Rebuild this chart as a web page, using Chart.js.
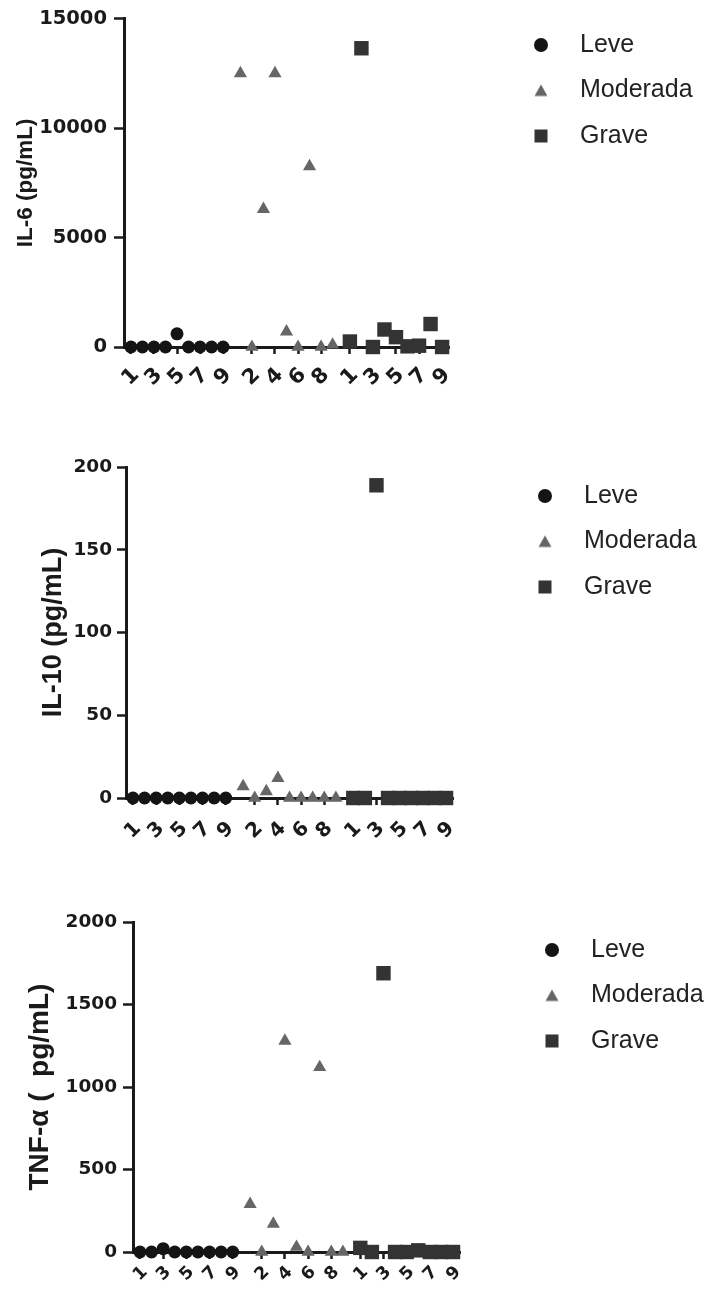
<!DOCTYPE html>
<html><head><meta charset="utf-8">
<script src="https://cdn.jsdelivr.net/npm/chart.js@4.4.1/dist/chart.umd.min.js"></script>
<style>
html,body{margin:0;padding:0;background:#fff;}
body{width:710px;height:1294px;position:relative;overflow:hidden;}
.panel{position:absolute;left:0;width:710px;}
</style></head><body>
<div class="panel" style="top:0px;height:400px"><canvas id="c1"></canvas></div>
<div class="panel" style="top:451px;height:400px"><canvas id="c2"></canvas></div>
<div class="panel" style="top:905px;height:389px"><canvas id="c3"></canvas></div>
<script>
// ---- data ----
const groups = ['Leve', 'Moderada', 'Grave'];
const patients = [1, 2, 3, 4, 5, 6, 7, 8, 9];
const tickLeve = [1, 3, 5, 7, 9];
const tickModerada = [2, 4, 6, 8];
const tickGrave = [1, 3, 5, 7, 9];

const il6Leve = [0, 0, 0, 0, 600, 0, 0, 0, 0];
const il6Moderada = [12500, 0, 6300, 12500, 700, 0, 8250, 0, 100];
const il6Grave = [250, 13650, 0, 800, 450, 30, 60, 1050, 0];
const il6Ticks = [0, 5000, 10000, 15000];

const il10Leve = [0, 0, 0, 0, 0, 0, 0, 0, 0];
const il10Moderada = [7, 0, 4, 12, 0, 0, 0, 0, 0];
const il10Grave = [0, 0, 189, 0, 0, 0, 0, 0, 0];
const il10Ticks = [0, 50, 100, 150, 200];

const tnfLeve = [0, 0, 20, 0, 0, 0, 0, 0, 0];
const tnfModerada = [290, 0, 170, 1280, 30, 0, 1120, 0, 0];
const tnfGrave = [25, 0, 1690, 0, 0, 10, 0, 0, 0];
const tnfTicks = [0, 500, 1000, 1500, 2000];

// ---- styling ----
const colors = ['#141414', '#666666', '#333333'];
const styles = ['circle', 'triangle', 'rect'];
const radii = [6.5, 7.6, 10.2];
const ink = '#1a1a1a';
const groupStride = patients.length + 0.5;
const groupTicks = [tickLeve, tickModerada, tickGrave];

function makeIcon(gi) {
  const c = document.createElement('canvas');
  c.width = 18; c.height = 18;
  const g = c.getContext('2d');
  g.fillStyle = colors[gi];
  if (gi === 0) { g.beginPath(); g.arc(9, 9, 7, 0, Math.PI * 2); g.fill(); }
  else if (gi === 1) { g.beginPath(); g.moveTo(9, 3); g.lineTo(15.5, 14.5); g.lineTo(2.5, 14.5); g.closePath(); g.fill(); }
  else { g.fillRect(2.5, 2.5, 13, 13); }
  return c;
}
const icons = groups.map((g, i) => makeIcon(i));

function makeChart(id, cfg) {
  const tickPos = [], tickText = [];
  groupTicks.forEach((arr, gi) => arr.forEach(n => { tickPos.push(gi * groupStride + (n - 1)); tickText.push(String(n)); }));
  const datasets = groups.map((g, gi) => ({
    label: g,
    data: patients.map((p, i) => ({ x: gi * groupStride + (p - 1), y: cfg.values[gi][i] })),
    pointStyle: styles[gi],
    pointRadius: radii[gi],
    pointHoverRadius: radii[gi],
    backgroundColor: colors[gi],
    borderColor: colors[gi],
    borderWidth: 0,
    showLine: false,
    clip: false
  }));
  return new Chart(document.getElementById(id), {
    type: 'scatter',
    data: { datasets },
    options: {
      responsive: true,
      maintainAspectRatio: false,
      animation: false,
      events: [],
      layout: { padding: { top: 12, right: cfg.padRight, left: 0, bottom: 0 } },
      plugins: {
        tooltip: { enabled: false },
        legend: {
          display: true, position: 'right', align: 'start', maxWidth: 200,
          labels: {
            usePointStyle: true, pointStyleWidth: 53, padding: 20.5,
            color: '#222',
            font: { family: "'Liberation Sans', Arial, sans-serif", size: 25 },
            generateLabels(chart) {
              const items = Chart.defaults.plugins.legend.labels.generateLabels(chart);
              items.forEach((it, i) => { it.pointStyle = icons[i]; it.fontColor = '#222'; });
              return items;
            }
          }
        }
      },
      scales: {
        x: {
          type: 'linear', min: -0.6, max: 27.6,
          afterBuildTicks: s => { s.ticks = tickPos.map(v => ({ value: v })); },
          afterFit: s => { s.height = cfg.xh; },
          grid: { display: true, drawOnChartArea: false, drawTicks: true, tickLength: 7, tickWidth: 2.5, tickColor: ink },
          border: { display: true, width: 3, color: ink },
          ticks: {
            autoSkip: false, maxRotation: 45, minRotation: 45, padding: cfg.xPad, labelOffset: 5,
            color: ink, font: { family: "'DejaVu Sans', sans-serif", weight: 'bold', size: cfg.xFont },
            callback: (v, i) => tickText[i]
          }
        },
        y: {
          type: 'linear', position: 'left', min: 0, max: cfg.ticks[cfg.ticks.length - 1],
          afterBuildTicks: s => { s.ticks = cfg.ticks.map(v => ({ value: v })); },
          afterFit: s => { s.width = cfg.yw; },
          grid: { display: true, drawOnChartArea: false, drawTicks: true, tickLength: cfg.tl, tickWidth: 2.5, tickColor: ink },
          border: { display: true, width: 3, color: ink },
          ticks: {
            padding: cfg.tp, color: ink,
            font: { family: "'DejaVu Sans', sans-serif", weight: 'bold', size: cfg.yFont },
            callback: v => String(v)
          },
          title: {
            display: true, text: cfg.title, color: ink,
            font: { family: "'Liberation Sans', Arial, sans-serif", weight: 'bold', size: cfg.titleFont },
            padding: { top: cfg.titlePad, bottom: 0 }
          }
        },
        spacer: {
          type: 'linear', position: 'right', display: true,
          grid: { display: false }, border: { display: false }, ticks: { display: false },
          afterFit: s => { s.width = 45; }
        }
      }
    }
  });
}

makeChart('c1', { values: [il6Leve, il6Moderada, il6Grave], ticks: il6Ticks, title: 'IL-6 (pg/mL)',
  yw: 124, tl: 10, tp: 7, yFont: 19.5, xFont: 21, xPad: 9, xh: 53, titleFont: 22.5, titlePad: 12.5, padRight: 16 });
makeChart('c2', { values: [il10Leve, il10Moderada, il10Grave], ticks: il10Ticks, title: 'IL-10 (pg/mL)',
  yw: 126, tl: 9, tp: 5, yFont: 18.5, xFont: 20, xPad: 12, xh: 53, titleFont: 27, titlePad: 37.8, padRight: 12 });
makeChart('c3', { values: [tnfLeve, tnfModerada, tnfGrave], ticks: tnfTicks, title: 'TNF-α (  pg/mL)',
  yw: 133, tl: 10, tp: 6, yFont: 18.5, xFont: 17.5, xPad: 3, xh: 42, titleFont: 28, titlePad: 23, padRight: 5 });
</script>
</body></html>
